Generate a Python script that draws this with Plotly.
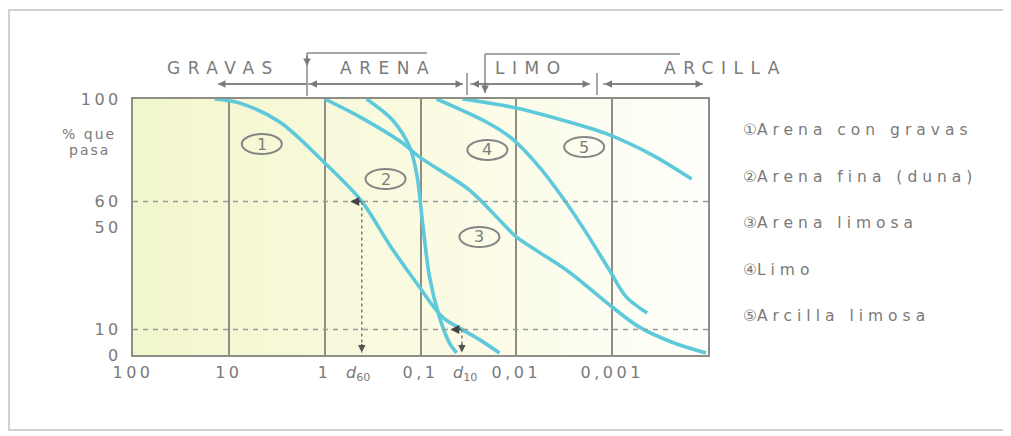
import math
import plotly.graph_objects as go

# ---------------- data ----------------
series_names = ["Arena con gravas", "Arena fina (duna)", "Arena limosa", "Limo", "Arcilla limosa"]
series_marks = ["①", "②", "③", "④", "⑤"]

d_arena_gravas = [14.0, 7.7, 2.94, 1.05, 0.41, 0.21, 0.110, 0.059, 0.037, 0.024, 0.015]
p_arena_gravas = [100, 98.4, 91.0, 75.8, 60, 43, 28.1, 14.8, 10, 5.9, 0.8]

d_arena_fina = [0.365, 0.196, 0.130, 0.110, 0.095, 0.0805, 0.0634, 0.0499, 0.042]
p_arena_fina = [100, 91.8, 81.3, 71.1, 51.6, 30.5, 14.8, 4.7, 0.8]

d_arena_limosa = [1.0, 0.43, 0.154, 0.102, 0.031, 0.014, 0.010, 0.0030, 0.0010, 0.00052, 0.000226, 0.000105]
p_arena_limosa = [100, 93, 82.8, 77.3, 64.5, 51.6, 46.1, 33.2, 18.75, 10.9, 4.7, 0.8]

d_limo = [0.068, 0.0205, 0.011, 0.00575, 0.0030, 0.00186, 0.00107, 0.000714, 0.000431]
p_limo = [100, 91, 84.4, 73.4, 59.4, 47.7, 33.2, 22.7, 16.4]

d_arcilla = [0.0365, 0.010, 0.00282, 0.00107, 0.00038, 0.000148]
p_arcilla = [100, 96.5, 91, 86, 78.1, 68.75]

x_tickvals = [100, 10, 1, 0.1, 0.01, 0.001]
x_ticktext = ["100", "10", "1", "0,1", "0,01", "0,001"]
y_tickvals = [0, 10, 50, 60, 100]
y_ticktext = ["0", "10", "50", "60", "100"]

zone_names = ["GRAVAS", "ARENA", "LIMO", "ARCILLA"]
ref_levels = [60, 10]
d60 = 0.41
d10 = 0.037

# ---------------- styling / layout constants ----------------
OFF = 8                      # page body margin of the browser
W, H = 1011 - OFF, 436 - OFF
PL, PR, PT, PB = 133, 708, 99, 355   # plot area in screen pixels
L, T = PL - OFF, PT - OFF
R, B = W - (PR - OFF), H - (PB - OFF)
PW, PH = PR - PL, PB - PT
FONT = "DejaVu Sans"
CURVE = "#5ec9da"
GRID = "#8e8e86"
TXT = "#7a7a7a"


def PX(px):
    return (px - PL) / PW


def PY(py):
    return (PB - py) / PH


def logpaper(d):
    return (2 - math.log10(d)) / 6.0


def spaced(text, sp):
    return f'<span style="letter-spacing:{sp}px">{text}</span>'


curves_d = [d_arena_gravas, d_arena_fina, d_arena_limosa, d_limo, d_arcilla]
curves_p = [p_arena_gravas, p_arena_fina, p_arena_limosa, p_limo, p_arcilla]

fig = go.Figure()
for name, xs, ys in zip(series_names, curves_d, curves_p):
    fig.add_trace(go.Scatter(x=xs, y=ys, mode="lines", name=name,
                             line=dict(color=CURVE, width=3.6, shape="spline", smoothing=0.9),
                             showlegend=False, hoverinfo="skip"))

shapes = []
# background gradient
N = 48
c_left = (242, 246, 204)
c_mid = (251, 251, 226)
c_right = (255, 255, 251)
for i in range(N):
    t = (i + 0.5) / N
    if t < 0.5:
        f = t / 0.5
        c = [c_left[k] + (c_mid[k] - c_left[k]) * f for k in range(3)]
    else:
        f = (t - 0.5) / 0.5
        c = [c_mid[k] + (c_right[k] - c_mid[k]) * f for k in range(3)]
    shapes.append(dict(type="rect", xref="x domain", yref="y domain", x0=i / N, x1=(i + 1) / N + 0.002,
                       y0=0, y1=1, fillcolor="rgb(%d,%d,%d)" % tuple(int(v) for v in c),
                       line=dict(width=0), layer="below"))

# reference dashed levels
for lv in ref_levels:
    shapes.append(dict(type="line", xref="x domain", yref="y", x0=0, x1=1, y0=lv, y1=lv,
                       line=dict(color="#9a9a9a", width=1.5, dash="5px,5px")))

# d60 / d10 dotted verticals
for dv, lv in [(d60, 60), (d10, 10)]:
    xp = logpaper(dv)
    shapes.append(dict(type="line", xref="paper", yref="y", x0=xp, x1=xp, y0=lv, y1=1,
                       line=dict(color="#7a7a7a", width=1.5, dash="dot")))

# top zone brackets and dividers
G = "#8a8a8a"
top_lines = [
    (307, 53, 307, 96), (307, 53, 427, 53),
    (485, 54, 485, 93), (485, 54, 680, 54),
    (467, 73, 467, 95), (597, 73, 597, 95),
    (308, 84, 463, 84), (470, 84, 590, 84), (603, 84, 703, 84), (218, 84, 307, 84),
]
for x0, y0, x1, y1 in top_lines:
    shapes.append(dict(type="line", xref="paper", yref="paper", x0=PX(x0), y0=PY(y0), x1=PX(x1), y1=PY(y1),
                       line=dict(color=G, width=1.5)))

# outer frame
shapes.append(dict(type="rect", xref="paper", yref="paper", x0=PX(9), x1=PX(1005), y0=PY(430), y1=PY(10),
                   line=dict(color="#d2d2d2", width=2), fillcolor="rgba(0,0,0,0)"))

annotations = []
# arrows at top
arrow_specs = [
    (218, 84, 89, 0, "end"),
    (463, 84, -155, 0, "end+start"),
    (590, 84, -120, 0, "end+start"),
    (703, 84, -100, 0, "end+start"),
    (307, 66, 0, -12, "end"),
    (485, 93, 0, -12, "end"),
]
for x, y, ax, ay, side in arrow_specs:
    annotations.append(dict(xref="paper", yref="paper", x=PX(x), y=PY(y), ax=ax, ay=ay, text="",
                            showarrow=True, arrowhead=2, startarrowhead=2, arrowside=side,
                            arrowsize=1, arrowwidth=1.5, arrowcolor="#7a7a7a"))

zone_centers = [220, 385, 528, 722]
for name, cx in zip(zone_names, zone_centers):
    annotations.append(dict(xref="paper", yref="paper", x=PX(cx + 3), y=PY(68), text=spaced(name, 7.5),
                            showarrow=False, font=dict(family=FONT, size=17, color=TXT),
                            xanchor="center", yanchor="middle"))

# d60 / d10 arrows
for dv, lv in [(d60, 60), (d10, 10)]:
    annotations.append(dict(xref="x", yref="y", x=math.log10(dv) + 0.12, y=lv, ax=12, ay=0, text="",
                            showarrow=True, arrowhead=2, arrowsize=1, arrowwidth=1.8, arrowcolor="#444444"))
    annotations.append(dict(xref="x", yref="y", x=math.log10(dv), y=1, ax=0, ay=-10, text="",
                            showarrow=True, arrowhead=2, arrowsize=1, arrowwidth=1.5, arrowcolor="#555555"))

annotations.append(dict(xref="paper", yref="paper", x=PX(358), y=PY(386),
                        text="<i>d</i><sub>60</sub>", showarrow=False,
                        font=dict(family=FONT, size=16, color=TXT)))
annotations.append(dict(xref="paper", yref="paper", x=PX(465), y=PY(386),
                        text="<i>d</i><sub>10</sub>", showarrow=False,
                        font=dict(family=FONT, size=16, color=TXT)))

# y title (partially visible)
annotations.append(dict(xref="paper", yref="paper", x=PX(118), y=PY(134), text=spaced("% que", 2),
                        showarrow=False, xanchor="right", yanchor="middle",
                        font=dict(family=FONT, size=14, color=TXT)))
annotations.append(dict(xref="paper", yref="paper", x=PX(112), y=PY(150), text=spaced("pasa", 2),
                        showarrow=False, xanchor="right", yanchor="middle",
                        font=dict(family=FONT, size=14, color=TXT)))

# in-plot circled labels
label_pos = [(0.656, 82.4), (-0.635, 68.75), (-1.615, 46.1), (-1.698, 80.1), (-2.708, 81.25)]
for i, (lx, ly) in enumerate(label_pos):
    xp = (2 - lx) / 6.0
    yp = ly / 100.0
    shapes.append(dict(type="circle", xref="paper", yref="paper",
                       x0=xp - 20 / PW, x1=xp + 20 / PW, y0=yp - 10 / PH, y1=yp + 10 / PH,
                       line=dict(color="#858585", width=2), fillcolor="rgba(0,0,0,0)"))
    annotations.append(dict(xref="x", yref="y", x=lx, y=ly, text=str(i + 1), showarrow=False,
                            font=dict(family=FONT, size=16, color="#7e7e7e")))

# legend texts on the right
legend_y = [130, 177, 223, 270, 316]
for mark, name, yy in zip(series_marks, series_names, legend_y):
    annotations.append(dict(xref="paper", yref="paper", x=PX(741), y=PY(yy),
                            text=mark + spaced(name, 5), showarrow=False,
                            xanchor="left", yanchor="middle",
                            font=dict(family=FONT, size=15.5, color=TXT)))

fig.update_layout(
    width=W, height=H,
    margin=dict(l=L, r=R, t=T, b=B, autoexpand=False),
    paper_bgcolor="white", plot_bgcolor="white",
    showlegend=False,
    shapes=shapes, annotations=annotations,
    xaxis=dict(type="log", range=[2, -4], tickvals=x_tickvals,
               ticktext=[spaced(t, 3.5) for t in x_ticktext],
               showgrid=True, gridcolor=GRID, gridwidth=2,
               showline=True, linecolor=GRID, linewidth=2, mirror=True,
               ticks="", ticklabelstandoff=2, zeroline=False,
               tickfont=dict(family=FONT, size=16, color=TXT), automargin=False),
    yaxis=dict(range=[0, 100], tickvals=y_tickvals,
               ticktext=[spaced(t, 3.5) for t in y_ticktext],
               showgrid=False, showline=True, linecolor=GRID, linewidth=2, mirror=True,
               ticks="", ticklabelstandoff=6, zeroline=False,
               tickfont=dict(family=FONT, size=16, color=TXT), automargin=False),
)

fig.write_html("out.html")
